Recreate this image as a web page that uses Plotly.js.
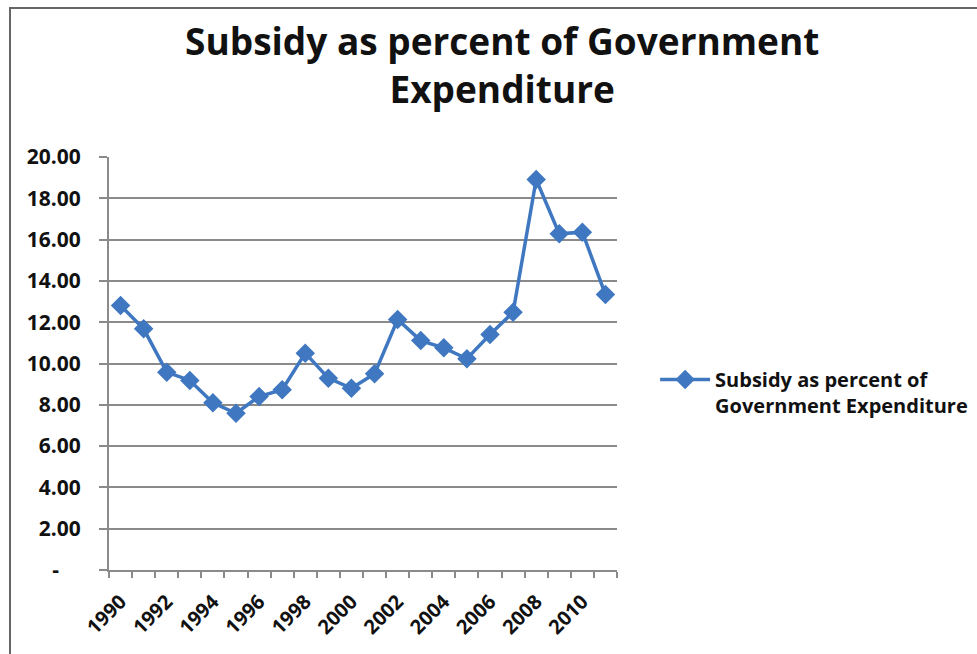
<!DOCTYPE html>
<html>
<head>
<meta charset="utf-8">
<script src="https://cdn.plot.ly/plotly-3.0.1.min.js"></script>
<style>
html, body { margin: 0; padding: 0; background: #ffffff; }
#frame { position: absolute; left: 9px; top: 7px; width: 968px; height: 647px; border-left: 2px solid #666; border-top: 2px solid #666; }
#chart { position: absolute; left: 0; top: 0; width: 977px; height: 654px; }
</style>
</head>
<body>
<div id="frame"></div>
<div id="chart"></div>
<script>
// Data
const years = [1990, 1991, 1992, 1993, 1994, 1995, 1996, 1997, 1998, 1999, 2000,
               2001, 2002, 2003, 2004, 2005, 2006, 2007, 2008, 2009, 2010, 2011];
const subsidyPct = [12.81, 11.68, 9.58, 9.18, 8.10, 7.59, 8.40, 8.73, 10.50, 9.29, 8.80,
                    9.50, 12.13, 11.11, 10.76, 10.23, 11.40, 12.48, 18.91, 16.28, 16.36, 13.34];
const seriesName = 'Subsidy as percent of<br>Government Expenditure';
const xTickVals = [1990, 1992, 1994, 1996, 1998, 2000, 2002, 2004, 2006, 2008, 2010];
const xTickText = ['1990', '1992', '1994', '1996', '1998', '2000', '2002', '2004', '2006', '2008', '2010'];
const yTickVals = [0, 2, 4, 6, 8, 10, 12, 14, 16, 18, 20];
const yTickText = ['-\u00a0\u00a0\u00a0\u00a0', '2.00', '4.00', '6.00', '8.00', '10.00', '12.00', '14.00', '16.00', '18.00', '20.00'];

const FONT = '"Open Sans", Lato, sans-serif';
const BLUE = '#3f78c0';

const trace = {
  x: years,
  y: subsidyPct,
  name: seriesName,
  type: 'scatter',
  mode: 'lines+markers',
  line: { color: BLUE, width: 3.5 },
  marker: { symbol: 'diamond', size: 15, color: BLUE },
  showlegend: true
};

const layout = {
  width: 977,
  height: 654,
  paper_bgcolor: 'rgba(0,0,0,0)',
  plot_bgcolor: 'rgba(0,0,0,0)',
  margin: { l: 109, r: 360, t: 157, b: 84, pad: 0, autoexpand: false },
  showlegend: true,
  title: {
    text: 'Subsidy as percent of Government<br>Expenditure',
    font: { family: FONT, size: 37, color: '#111', weight: 'bold' },
    x: 0.514, xanchor: 'center', xref: 'container',
    y: 0.916, yanchor: 'top', yref: 'container'
  },
  xaxis: {
    type: 'linear',
    range: [1989.5, 2011.5],
    tickvals: xTickVals,
    ticktext: xTickText,
    tickangle: -45,
    ticks: '',
    ticklabelstandoff: 10,
    tickfont: { family: FONT, size: 20, color: '#111', weight: 'bold' },
    showgrid: false,
    zeroline: false,
    showline: true,
    linecolor: '#8a8a8a',
    linewidth: 2,
    automargin: false,
    minor: { tick0: 1989.5, dtick: 1, ticks: 'outside', ticklen: 6, tickcolor: '#8a8a8a', tickwidth: 2, showgrid: false },
    fixedrange: true
  },
  yaxis: {
    range: [0, 20],
    tickvals: yTickVals,
    ticktext: yTickText,
    ticks: 'outside',
    ticklen: 8,
    tickwidth: 2,
    tickcolor: '#8a8a8a',
    ticklabelstandoff: 14,
    tickfont: { family: FONT, size: 21, color: '#111', weight: 'bold' },
    showgrid: true,
    gridcolor: '#8a8a8a',
    gridwidth: 2,
    zeroline: false,
    showline: true,
    linecolor: '#8a8a8a',
    linewidth: 2,
    automargin: false,
    fixedrange: true
  },
  legend: {
    x: 1.075, xanchor: 'left', xref: 'paper',
    y: 0.43, yanchor: 'middle', yref: 'paper',
    font: { family: FONT, size: 20, color: '#111', weight: 'bold' },
    bgcolor: 'rgba(0,0,0,0)',
    borderwidth: 0,
    itemwidth: 50,
    valign: 'top'
  }
};

Plotly.newPlot('chart', [trace], layout, { displayModeBar: false, staticPlot: true });
</script>
</body>
</html>
